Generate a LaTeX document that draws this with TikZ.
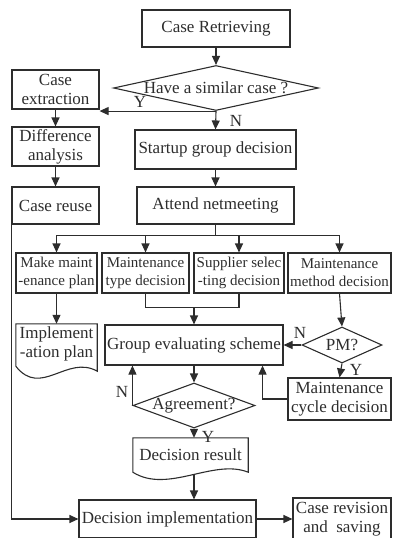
\documentclass[tikz,border=0pt]{standalone}
\usepackage{fontspec}
\setmainfont{Liberation Serif}
\usetikzlibrary{arrows.meta,shapes.geometric,calc}
\definecolor{ink}{RGB}{45,45,45}
\begin{document}
\begin{tikzpicture}[x=1pt,y=-1pt,
  every node/.style={font=\fontsize{17}{19}\selectfont, text=ink},
  box/.style={draw=ink, line width=1.1pt, rectangle, inner sep=0pt, align=center},
  small/.style={font=\fontsize{15}{18}\selectfont},
  dia/.style={draw=ink, line width=1.1pt, diamond, inner sep=0pt},
  doc/.style={rectangle, inner sep=0pt, align=center},
  flow/.style={draw=ink, line width=1.1pt},
  arr/.style={flow, -{Triangle[length=9pt,width=8pt]}},
  tag/.style={inner sep=0pt}
]
\useasboundingbox (0,0) rectangle (393,538);

% main column
\node[box, minimum width=148pt, minimum height=37pt] (retr) at (216,28.5) {Case Retrieving};
\node[dia, minimum width=205pt, minimum height=45pt] (sim) at (216,88) {};
\node[tag] (simt) at (216,88) {Have a similar case ?};
\node[box, minimum width=161pt, minimum height=39pt] (start) at (215.5,149.5) {Startup group decision};
\node[box, minimum width=157pt, minimum height=37pt] (attend) at (215.5,205.5) {Attend netmeeting};

% case-based branch
\node[box, minimum width=87pt, minimum height=39pt] (ext) at (55.5,89.5) {Case\\extraction};
\node[box, minimum width=87pt, minimum height=39pt] (diff) at (55.5,146.5) {Difference\\analysis};
\node[box, minimum width=87pt, minimum height=37pt] (reuse) at (55.5,205.5) {Case reuse};

% parallel decisions
\node[box, small, minimum width=81pt, minimum height=40pt] (mk) at (56.5,273) {Make maint\\-enance plan};
\node[box, small, minimum width=87pt, minimum height=40pt] (mt) at (145.5,273) {Maintenance\\type decision};
\node[box, small, minimum width=90pt, minimum height=40pt] (sup) at (239,273) {Supplier selec\\-ting decision};
\node[box, small, minimum width=103pt, minimum height=40pt] (mm) at (339.5,273) {Maintenance\\method decision};

% evaluation
\node[doc, minimum width=81pt, minimum height=40pt] (impl) at (56.5,344) {Implement\\-ation plan};
\draw[flow] (impl.north west) -- ($(impl.south west)+(0,2)$)
  .. controls ($(impl.south west)+(25,34)$) and ($(impl.south east)+(-30,-10)$) .. ($(impl.south east)+(0,7)$)
  -- (impl.north east) -- cycle;
\node[box, minimum width=178pt, minimum height=40pt] (grp) at (194,345) {Group evaluating scheme};
\node[dia, minimum width=80pt, minimum height=36pt] (pm) at (342,345) {};
\node[tag] (pmt) at (342,345) {PM?};
\node[box, minimum width=103pt, minimum height=42pt] (cyc) at (339.5,399) {Maintenance\\cycle decision};
\node[dia, minimum width=122pt, minimum height=45pt] (agr) at (194,405.5) {};
\node[tag] (agrt) at (194,405.5) {Agreement?};

% result and implementation
\node[doc, minimum width=115pt, minimum height=34pt] (res) at (190.5,455) {Decision result};
\draw[flow] (res.north west) -- (res.south west)
  .. controls ($(res.south west)+(35,22)$) and ($(res.south east)+(-35,-14)$) .. coordinate[pos=0.5] (resb) (res.south east)
  -- (res.north east) -- cycle;
\node[box, minimum width=177pt, minimum height=38pt] (dimp) at (167.5,519) {Decision implementation};
\node[box, minimum width=98pt, minimum height=42pt] (rev) at (342,519) {Case revision\\and\ \ saving};

% connectors
\draw[arr] (retr.south) -- (sim.north);
\draw[arr] (sim.south) -- (sim.south -| ext.east);
\node[tag] (ly1) at (140,102) {Y};
\draw[arr] (sim.south) -- (start.north);
\node[tag] (ln1) at (236,121) {N};
\draw[arr] (ext.south) -- (diff.north);
\draw[arr] (diff.south) -- (reuse.north);
\draw[arr] (start.south) -- (attend.north);

\draw[flow] (attend.south) -- ++(0,11) coordinate (br);
\draw[arr] (br) -| (mk.north);
\draw[arr] (br) -| (mt.north);
\draw[arr] (br) -| (sup.north);
\draw[arr] (br) -| (mm.north);

\draw[arr] (mk.south) -- (impl.north);
\draw[flow] (mt.south) -- ++(0,14) coordinate (mj1) -| (sup.south);
\draw[arr] (grp.north |- mj1) -- (grp.north);
\draw[arr] (mm.south) -- (pm.north);
\draw[arr] (pm.west) -- (grp.east);
\node[tag] (ln2) at (300,333) {N};
\draw[arr] (pm.south) -- (cyc.north);
\node[tag] (ly2) at (356,370) {Y};
\draw[arr] (cyc.west) -| ($(grp.south east)+(-21,0)$);

\draw[arr] (grp.south) -- (agr.north);
\draw[arr] (agr.west) -- (agr.west |- grp.south);
\node[tag] (ln3) at (122,392) {N};
\draw[arr] (agr.south) -- (agr.south |- res.north);
\node[tag] (ly3) at (208,437) {Y};
\draw[arr] (agr.south |- resb) -- (agr.south |- dimp.north);

\draw[arr] (reuse.south west) |- (dimp.west);
\draw[arr] (dimp.east) -- (rev.west);
\end{tikzpicture}
\end{document}
